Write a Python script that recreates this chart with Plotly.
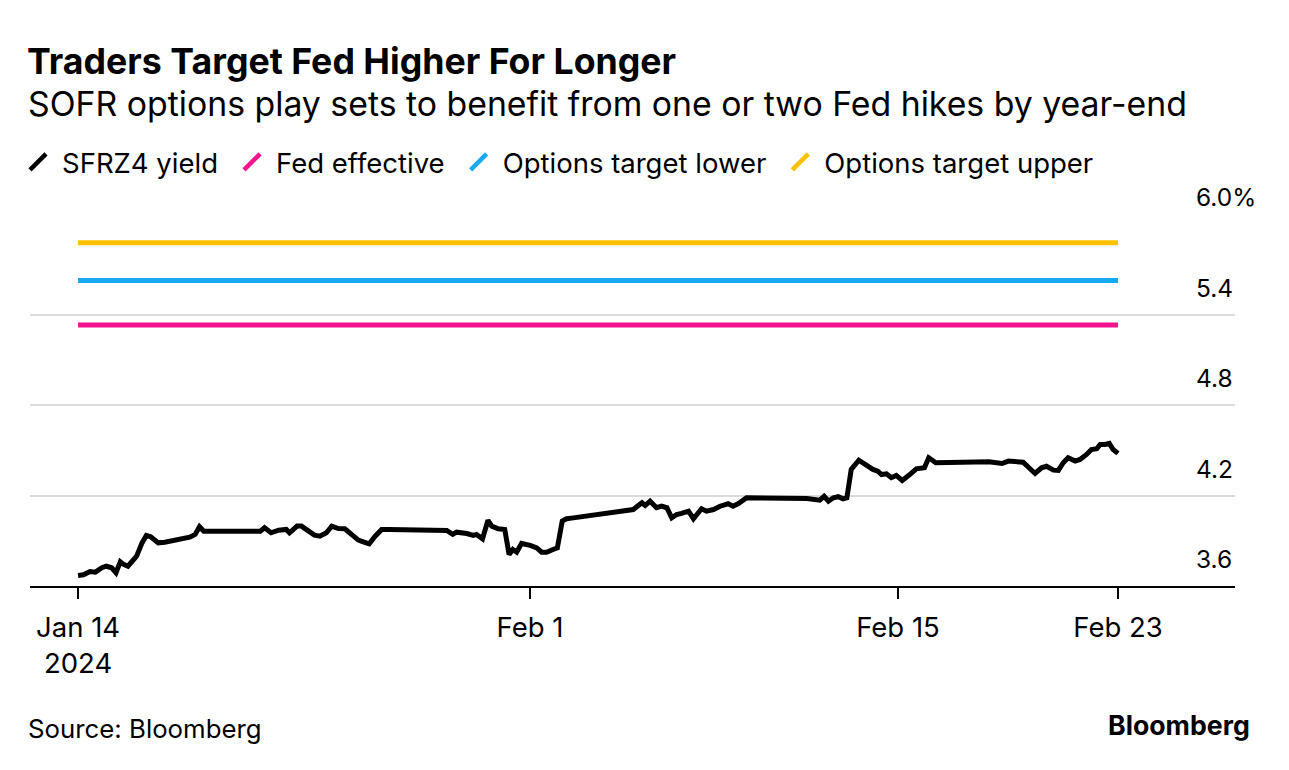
import plotly.graph_objects as go

# ---------------- data ----------------
times = [
    "2024-01-14 17:00", "2024-01-14 22:00", "2024-01-15 04:00", "2024-01-15 09:00", "2024-01-15 15:00",
    "2024-01-15 19:00", "2024-01-16 00:00", "2024-01-16 04:00", "2024-01-16 08:00", "2024-01-16 11:00",
    "2024-01-16 15:00", "2024-01-16 23:00", "2024-01-17 04:00", "2024-01-17 08:00", "2024-01-17 12:00",
    "2024-01-17 19:00", "2024-01-18 01:00", "2024-01-18 06:00", "2024-01-18 10:00", "2024-01-18 17:00",
    "2024-01-19 00:00", "2024-01-19 05:00", "2024-01-19 09:00", "2024-01-19 13:00", "2024-01-19 16:00",
    "2024-01-21 17:00", "2024-01-21 21:00", "2024-01-22 03:00", "2024-01-22 10:00", "2024-01-22 17:00",
    "2024-01-22 20:00", "2024-01-23 03:00", "2024-01-23 07:00", "2024-01-23 13:00", "2024-01-23 19:00",
    "2024-01-24 00:00", "2024-01-24 06:00", "2024-01-24 11:00", "2024-01-24 17:00", "2024-01-24 23:00",
    "2024-01-25 05:00", "2024-01-25 11:30", "2024-01-25 16:00", "2024-01-25 21:30", "2024-01-26 03:00",
    "2024-01-26 09:00", "2024-01-26 16:00", "2024-01-28 17:00", "2024-01-28 21:00", "2024-01-29 02:30",
    "2024-01-29 06:00", "2024-01-29 15:30", "2024-01-29 21:30", "2024-01-30 00:30", "2024-01-30 06:00",
    "2024-01-30 11:00", "2024-01-30 14:30", "2024-01-30 20:30", "2024-01-31 02:30", "2024-01-31 06:30",
    "2024-01-31 10:00", "2024-01-31 13:30", "2024-01-31 18:00", "2024-02-01 02:00", "2024-02-01 08:00",
    "2024-02-01 12:30", "2024-02-01 17:00", "2024-02-01 23:00", "2024-02-02 03:00", "2024-02-02 07:30",
    "2024-02-02 11:30", "2024-02-02 16:00", "2024-02-04 17:00", "2024-02-04 22:00", "2024-02-05 01:00",
    "2024-02-05 09:00", "2024-02-05 12:00", "2024-02-05 16:30", "2024-02-05 22:30", "2024-02-06 03:00",
    "2024-02-06 08:00", "2024-02-06 12:30", "2024-02-06 17:00", "2024-02-06 21:30", "2024-02-07 04:00",
    "2024-02-07 08:30", "2024-02-07 13:00", "2024-02-07 16:00", "2024-02-07 20:30", "2024-02-08 03:00",
    "2024-02-08 09:00", "2024-02-08 16:30", "2024-02-08 21:00", "2024-02-09 02:00", "2024-02-09 09:30",
    "2024-02-09 16:00", "2024-02-11 17:00", "2024-02-12 05:00", "2024-02-12 09:00", "2024-02-12 13:00",
    "2024-02-12 17:30", "2024-02-12 22:00", "2024-02-13 02:30", "2024-02-13 06:00", "2024-02-13 10:00",
    "2024-02-13 17:00", "2024-02-14 00:00", "2024-02-14 06:00", "2024-02-14 10:30", "2024-02-14 14:00",
    "2024-02-14 18:30", "2024-02-14 23:00", "2024-02-15 03:30", "2024-02-15 09:00", "2024-02-15 16:00",
    "2024-02-15 22:00", "2024-02-16 05:30", "2024-02-16 09:30", "2024-02-16 16:00", "2024-02-18 17:00",
    "2024-02-19 05:00", "2024-02-19 11:00", "2024-02-20 00:30", "2024-02-20 07:00", "2024-02-20 11:30",
    "2024-02-20 17:30", "2024-02-20 22:00", "2024-02-21 04:30", "2024-02-21 09:00", "2024-02-21 13:30",
    "2024-02-21 18:00", "2024-02-22 00:30", "2024-02-22 05:00", "2024-02-22 11:00", "2024-02-22 15:30",
    "2024-02-22 20:30", "2024-02-22 23:30", "2024-02-23 04:00", "2024-02-23 08:00", "2024-02-23 11:30",
    "2024-02-23 16:00",
]
sfrz4_yield = [
    3.670, 3.674, 3.696, 3.692, 3.721,
    3.731, 3.721, 3.688, 3.760, 3.743,
    3.731, 3.798, 3.886, 3.935, 3.926,
    3.886, 3.890, 3.897, 3.897, 3.915,
    3.924, 3.942, 3.993, 3.963, 3.963,
    3.963, 3.986, 3.953, 3.970, 3.975,
    3.953, 3.997, 3.997, 3.963, 3.937,
    3.930, 3.953, 3.997, 3.981, 3.979,
    3.942, 3.904, 3.893, 3.880, 3.930,
    3.975, 3.975, 3.970, 3.968, 3.942,
    3.957, 3.948, 3.935, 3.942, 3.913,
    4.036, 3.997, 3.979, 3.975, 3.809,
    3.842, 3.824, 3.882, 3.869, 3.853,
    3.824, 3.824, 3.842, 3.853, 4.030,
    4.046, 4.050, 4.100, 4.107, 4.107,
    4.152, 4.134, 4.162, 4.119, 4.129,
    4.119, 4.052, 4.074, 4.081, 4.096,
    4.046, 4.085, 4.112, 4.096, 4.107,
    4.129, 4.145, 4.129, 4.147, 4.185,
    4.185, 4.180, 4.169, 4.195, 4.162,
    4.185, 4.192, 4.178, 4.185, 4.373,
    4.434, 4.399, 4.373, 4.361, 4.339,
    4.344, 4.318, 4.333, 4.300, 4.339,
    4.377, 4.384, 4.450, 4.417, 4.424,
    4.412, 4.428, 4.421, 4.377, 4.346,
    4.384, 4.394, 4.368, 4.366, 4.417,
    4.450, 4.428, 4.439, 4.472, 4.505,
    4.510, 4.538, 4.538, 4.545, 4.505,
    4.479,
]

level_dates = ["2024-01-14 17:00", "2024-02-23 16:00"]
fed_effective = [5.33, 5.33]
options_lower = [5.625, 5.625]
options_upper = [5.875, 5.875]

series_names = ["SFRZ4 yield", "Fed effective", "Options target lower", "Options target upper"]
series_colors = ["#000000", "#F2138C", "#17A9F2", "#FDC100"]

x_tick_vals = ["2024-01-14 17:00", "2024-02-01 01:48", "2024-02-15 05:06", "2024-02-23 16:00"]
x_tick_text = ["Jan 14<br>2024", "Feb 1", "Feb 15", "Feb 23"]
y_tick_vals = [3.6, 4.2, 4.8, 5.4, 6.0]
y_tick_text = ["3.6", "4.2", "4.8", "5.4", "6.0%"]
x_range = ["2024-01-12 20:42", "2024-02-28 03:54"]
y_range = [3.6, 6.0]

FONT = "Inter"

# page has an 8px body margin: size the figure so it fits the window
W, H, OFF = 1281, 762, 8
ML, MR, MT, MB = 22, 54, 216, 184
PW, PH = W - ML - MR, H - MT - MB


def cx(px):
    return (px - OFF) / W


def cy(py):
    return 1 - (py - OFF) / H


def px_(px):
    return (px - OFF - ML) / PW


def py_(py):
    return 1 - (py - OFF - MT) / PH


# ---------------- figure ----------------
fig = go.Figure()
series_y = [sfrz4_yield, fed_effective, options_lower, options_upper]
series_x = [times, level_dates, level_dates, level_dates]
for name, color, xs, ys in zip(series_names, series_colors, series_x, series_y):
    fig.add_trace(go.Scatter(
        x=xs, y=ys, mode="lines", name=name, legendgroup=name, showlegend=False,
        line=dict(color=color, width=5, shape="linear"),
        hoverinfo="skip",
    ))
# legend entries with slanted-stroke icons
for name, color in zip(series_names, series_colors):
    fig.add_trace(go.Scatter(
        x=[None], y=[None], mode="markers", name=name + "\u2009", legendgroup=name,
        showlegend=True,
        marker=dict(symbol="line-ne", size=17, line=dict(color=color, width=4.5)),
    ))

fig.update_layout(
    width=W, height=H,
    margin=dict(l=ML, r=MR, t=MT, b=MB, autoexpand=False),
    paper_bgcolor="white", plot_bgcolor="white",
    font=dict(family=FONT, size=24, color="#000000"),
    title=dict(
        text="<b>Traders Target Fed Higher For Longer</b>",
        x=cx(27), xref="container", xanchor="left",
        y=cy(62), yref="container", yanchor="middle",
        font=dict(family=FONT, size=35.7, color="#000000"),
    ),
    showlegend=True,
    legend=dict(
        orientation="h", xref="container", yref="container",
        x=cx(14), xanchor="left", y=cy(162), yanchor="middle",
        font=dict(family=FONT, size=27.5, color="#000000"),
        bgcolor="rgba(0,0,0,0)", itemclick=False, itemdoubleclick=False,
        tracegroupgap=0, itemwidth=38,
    ),
    xaxis=dict(
        type="date", range=x_range, automargin=False,
        tickvals=x_tick_vals, ticktext=x_tick_text,
        showgrid=False, zeroline=False,
        showline=True, linecolor="#000000", linewidth=1.5,
        ticks="outside", ticklen=11, tickwidth=1.5, tickcolor="#000000",
        tickfont=dict(family=FONT, size=27.5, color="#000000"),
        ticklabelstandoff=5,
        fixedrange=True,
    ),
    yaxis=dict(
        range=y_range, side="right", automargin=False,
        tickvals=y_tick_vals, ticktext=y_tick_text,
        showgrid=True, gridcolor="#DADADA", gridwidth=2,
        zeroline=False, showline=False, ticks="",
        ticklabelposition="outside top", ticklabelstandoff=-40, ticklabelshift=-9,
        tickfont=dict(family=FONT, size=24.5, color="#000000"),
        fixedrange=True,
    ),
    annotations=[
        dict(text="SOFR options play sets to benefit from one or two Fed hikes by year-end",
             xref="paper", yref="paper", x=px_(26), y=py_(103),
             xanchor="left", yanchor="middle", showarrow=False,
             font=dict(family=FONT, size=33.8, color="#000000")),
        dict(text="Source: Bloomberg",
             xref="paper", yref="paper", x=px_(26), y=py_(728),
             xanchor="left", yanchor="middle", showarrow=False,
             font=dict(family=FONT, size=25.8, color="#000000")),
        dict(text="<b>Bloomberg</b>",
             xref="paper", yref="paper", x=px_(1252), y=py_(725),
             xanchor="right", yanchor="middle", showarrow=False,
             font=dict(family=FONT, size=26.7, color="#000000")),
    ],
)

fig.write_html("out.html")
